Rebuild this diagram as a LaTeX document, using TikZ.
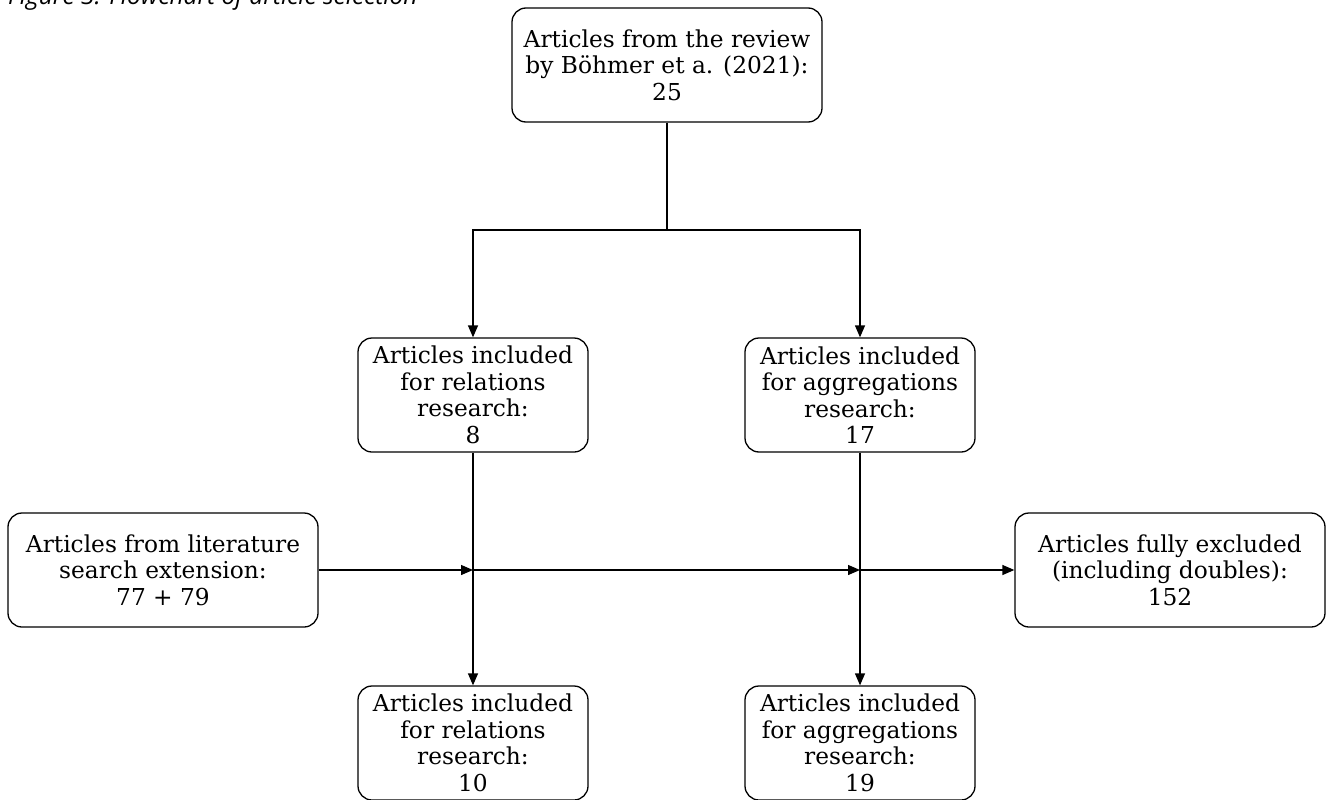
\documentclass[tikz,border=0pt]{standalone}
\usepackage{fontspec}
\setmainfont{DejaVu Serif}
\newfontfamily\capfont{Open Sans}
\usetikzlibrary{arrows.meta}
\begin{document}
\begin{tikzpicture}[x=1pt,y=-1pt,
  box/.style={draw, line width=1.3pt, rounded corners=14pt, align=center, inner sep=0pt,
    font=\fontsize{23.3}{26.5}\selectfont},
  bigbox/.style={box, minimum width=310pt, minimum height=114pt},
  smallbox/.style={box, minimum width=230pt, minimum height=114pt},
  conn/.style={line width=1.3pt},
  arr/.style={conn, -{Triangle[length=12pt,width=10pt]}}]
\useasboundingbox (0,0) rectangle (1333,800);
\node[anchor=base west, inner sep=0pt, font=\capfont\itshape\fontsize{24.5}{28}\selectfont] (cap) at (8,5) {Figure 3. Flowchart of article selection};
\node[bigbox] (top) at (667,65) {Articles from the review\\by Böhmer et a. (2021):\\25};
\node[smallbox] (ml) at (473,395) {Articles included\\for relations\\research:\\8};
\node[smallbox] (mr) at (860,395) {Articles included\\for aggregations\\research:\\17};
\node[bigbox] (lit) at (163,570) {Articles from literature\\search extension:\\77 + 79};
\node[bigbox] (exc) at (1170,570) {Articles fully excluded\\(including doubles):\\152};
\node[smallbox] (bl) at (473,743) {Articles included\\for relations\\research:\\10};
\node[smallbox] (br) at (860,743) {Articles included\\for aggregations\\research:\\19};
\coordinate (split) at (667,230);
\coordinate (jl) at (473,570);
\coordinate (jr) at (860,570);
\draw[conn] (top.south) -- (split);
\draw[arr] (split) -| (ml.north);
\draw[arr] (split) -| (mr.north);
\draw[arr] (ml.south) -- (bl.north);
\draw[arr] (mr.south) -- (br.north);
\draw[arr] (lit.east) -- (jl);
\draw[arr] (jl) -- (jr);
\draw[arr] (jr) -- (exc.west);
\end{tikzpicture}
\end{document}
